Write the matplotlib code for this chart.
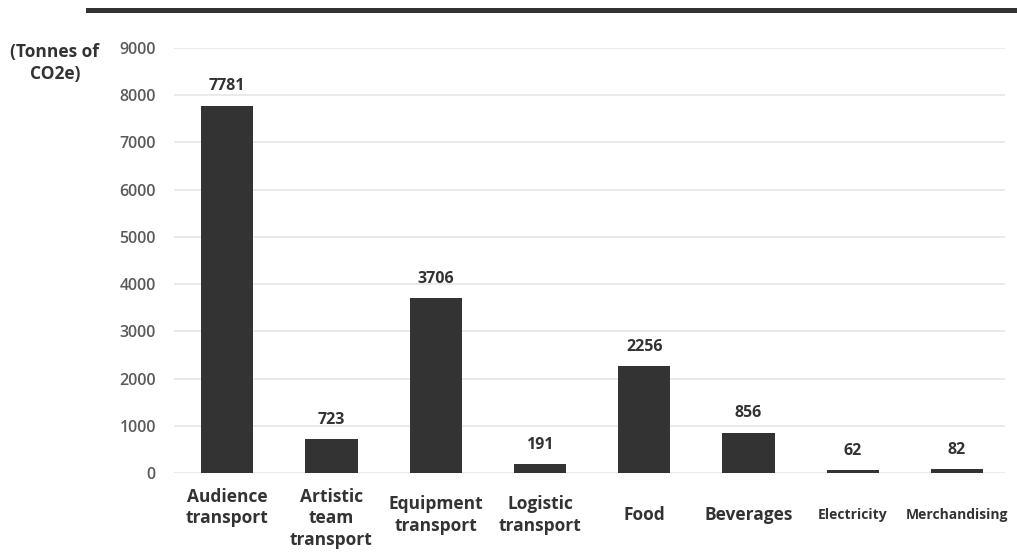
import matplotlib.pyplot as plt
from matplotlib.lines import Line2D

plt.rcParams["font.family"] = ["Open Sans", "DejaVu Sans"]

# Emissions by source (tonnes CO2e)
categories = ["Audience\ntransport", "Artistic\nteam\ntransport", "Equipment\ntransport",
              "Logistic\ntransport", "Food", "Beverages", "Electricity", "Merchandising"]
emissions = [7781, 723, 3706, 191, 2256, 856, 62, 82]
yticks = [0, 1000, 2000, 3000, 4000, 5000, 6000, 7000, 8000, 9000]

fig = plt.figure(figsize=(10.17, 5.58), dpi=100)
ax = fig.add_axes([0.1711, 0.1523, 0.8171, 0.7617])

x = range(len(categories))
ax.bar(x, emissions, width=0.5, color="#333333", zorder=3)

for xi, v in zip(x, emissions):
    ax.annotate(str(v), (xi, v), xytext=(0, 8), textcoords="offset points",
                ha="center", va="bottom", fontsize=11.5, fontweight="bold", color="#333333")

ax.set_xlim(-0.51, 7.46)
ax.set_ylim(0, 9000)
ax.set_yticks(yticks)
ax.set_yticklabels([str(t) for t in yticks], fontsize=11.5, color="#5a5a5a", fontweight="semibold")
ax.tick_params(axis="y", length=0, pad=13)
ax.set_xticks([])
ax.yaxis.grid(True, color="#e6e6e6", linewidth=1.2, zorder=0)
for s in ax.spines.values():
    s.set_visible(False)

# category labels under the bars
trans = ax.get_xaxis_transform()
for i, name in enumerate(categories):
    small = name in ("Electricity", "Merchandising")
    if i < 2:
        ax.text(i, -0.035, name, transform=trans, ha="center", va="top",
                fontsize=12.5, fontweight="bold", color="#333333", linespacing=1.25)
    else:
        ax.text(i, -0.099, name, transform=trans, ha="center", va="center",
                fontsize=10 if small else 12.5, fontweight="bold", color="#333333",
                linespacing=1.25)

fig.text(0.054, 0.887, "(Tonnes of\nCO2e)", ha="center", va="center",
         fontsize=12.5, fontweight="bold", color="#333333", linespacing=1.3)

# heavy rule across the top
fig.add_artist(Line2D([0.0865, 1.0], [0.982, 0.982], transform=fig.transFigure,
                      color="#333333", linewidth=3.6))

fig.savefig("out.png", dpi=100)
